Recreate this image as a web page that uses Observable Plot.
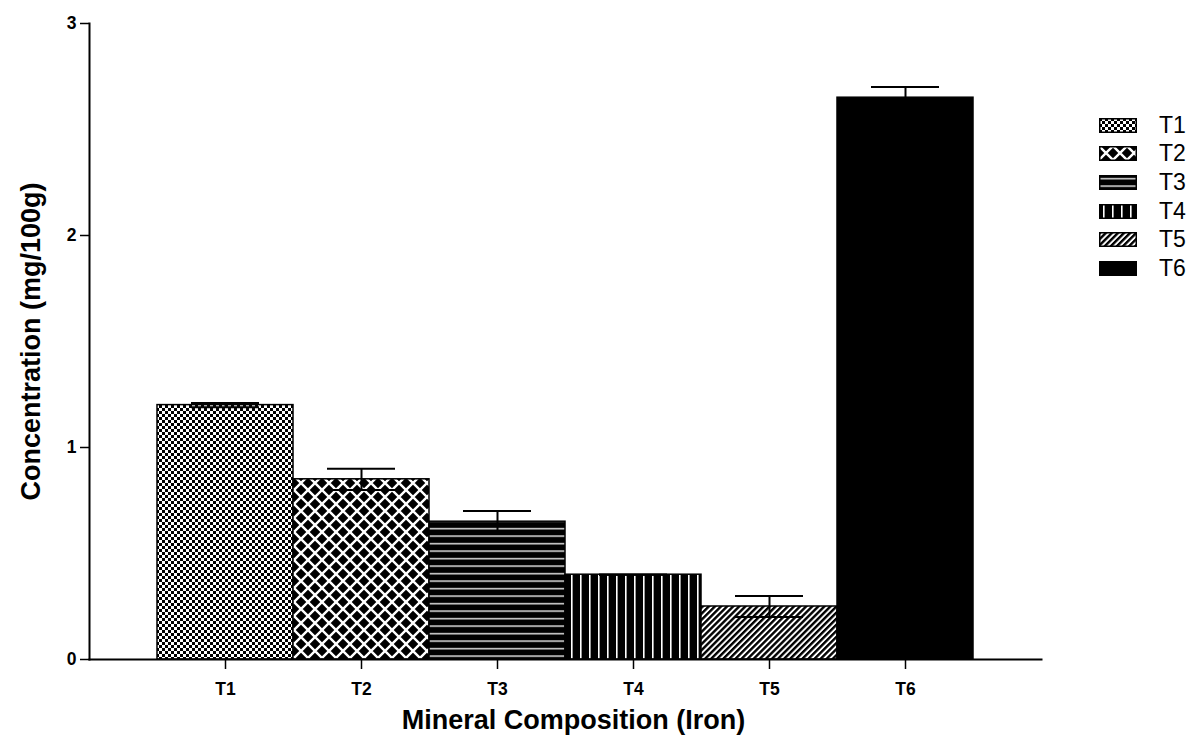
<!DOCTYPE html>
<html><head><meta charset="utf-8">
<script src="https://cdn.jsdelivr.net/npm/d3@7"></script>
<script src="https://cdn.jsdelivr.net/npm/@observablehq/plot@0.6"></script>
<style>
body{margin:0;background:#fff;font-family:"Liberation Sans",Arial,sans-serif;}
#wrap{position:relative;width:1193px;height:735px;}
#defs{position:absolute;left:0;top:0;width:0;height:0;}
#legend{position:absolute;left:1099px;top:111px;}
.row{display:flex;align-items:center;height:28.6px;}
.row svg{display:block}
.row span{margin-left:22px;font-size:23px;color:#000;line-height:1}
</style></head><body><div id="wrap"><svg id="defs"><defs>
<pattern id="p1" width="6" height="6" patternUnits="userSpaceOnUse"><rect width="6" height="6" fill="#fff"/><rect width="3" height="3" fill="#000"/><rect x="3" y="3" width="3" height="3" fill="#000"/></pattern>
<pattern id="p2" width="14" height="14" patternUnits="userSpaceOnUse"><rect width="14" height="14" fill="#000"/><path d="M-1,-1L15,15M15,-1L-1,15" stroke="#fff" stroke-width="2.4"/></pattern>
<pattern id="p3" width="8" height="7.5" patternUnits="userSpaceOnUse"><rect width="8" height="7.5" fill="#000"/><rect y="3" width="8" height="1.3" fill="#fff"/></pattern>
<pattern id="p4" width="9" height="8" patternUnits="userSpaceOnUse"><rect width="9" height="8" fill="#000"/><rect x="4" width="1.6" height="8" fill="#fff"/></pattern>
<pattern id="p5" width="4.3" height="8" patternUnits="userSpaceOnUse" patternTransform="rotate(45)"><rect width="4.3" height="8" fill="#fff"/><rect width="2.4" height="8" fill="#000"/></pattern>
</defs></svg><div id="legend"></div></div>
<script>
const categories = ["T1", "T2", "T3", "T4", "T5", "T6"];
const means = [1.20, 0.85, 0.65, 0.40, 0.25, 2.65];
const errors = [0.01, 0.05, 0.05, 0.0, 0.05, 0.05];
const fills = ["url(#p1)", "url(#p2)", "url(#p3)", "url(#p4)", "url(#p5)", "#000"];
const yTicks = [0, 1, 2, 3];
const xTitle = "Mineral Composition (Iron)";
const yTitle = "Concentration (mg/100g)";

const data = categories.map((c, i) => ({cat: c, mean: means[i], lo: means[i] - errors[i], hi: means[i] + errors[i], fill: fills[i]}));

const chart = Plot.plot({
  width: 1193, height: 735,
  marginLeft: 89, marginRight: 152, marginTop: 23, marginBottom: 76,
  style: {fontFamily: "'Liberation Sans', Arial, sans-serif", background: "transparent", color: "#000"},
  x: {domain: categories, paddingInner: 0, paddingOuter: 0.5, axis: null},
  y: {domain: [0, 3], axis: null},
  color: {type: "identity"},
  marks: [
    Plot.barY(data, {x: "cat", y: "mean", fill: "fill", stroke: "#000", strokeWidth: 1.5}),
    Plot.ruleX(data, {x: "cat", y1: "lo", y2: "hi", stroke: "#000", strokeWidth: 2}),
    Plot.tickY(data, {x: "cat", y: "hi", stroke: "#000", strokeWidth: 2, insetLeft: 34, insetRight: 34}),
    Plot.tickY(data, {x: "cat", y: "lo", stroke: "#000", strokeWidth: 2, insetLeft: 34, insetRight: 34}),
    Plot.frame({anchor: "left", stroke: "#000", strokeWidth: 2}),
    Plot.frame({anchor: "bottom", stroke: "#000", strokeWidth: 2}),
    Plot.axisY(yTicks, {tickSize: 9, label: null, strokeWidth: 1.5, tickFormat: () => ""}),
    Plot.axisX({tickSize: 10, label: null, strokeWidth: 1.5, tickFormat: () => ""}),
    Plot.text(yTicks, {y: d => d, frameAnchor: "left", dx: -13, textAnchor: "end", lineAnchor: "middle", text: d => String(d), fontSize: 17.5, fontWeight: "bold", fill: "#000"}),
    Plot.text(categories, {x: d => d, frameAnchor: "bottom", dy: 30, textAnchor: "middle", lineAnchor: "middle", text: d => d, fontSize: 17.5, fontWeight: "bold", fill: "#000"}),
    Plot.text([xTitle], {frameAnchor: "bottom", dy: 61, dx: 8, lineAnchor: "middle", textAnchor: "middle", fontSize: 27, fontWeight: "bold", fill: "#000"}),
    Plot.text([yTitle], {frameAnchor: "left", dx: -58, rotate: -90, lineAnchor: "middle", textAnchor: "middle", fontSize: 27, fontWeight: "bold", fill: "#000"})
  ]
});
document.getElementById("wrap").prepend(chart);

const legend = document.getElementById("legend");
categories.forEach((c, i) => {
  const row = document.createElement("div");
  row.className = "row";
  row.innerHTML = `<svg width="38" height="15"><rect x="0.75" y="0.75" width="36.5" height="13.5" fill="${fills[i]}" stroke="#000" stroke-width="1.5"/></svg><span>${c}</span>`;
  legend.appendChild(row);
});
</script></body></html>
